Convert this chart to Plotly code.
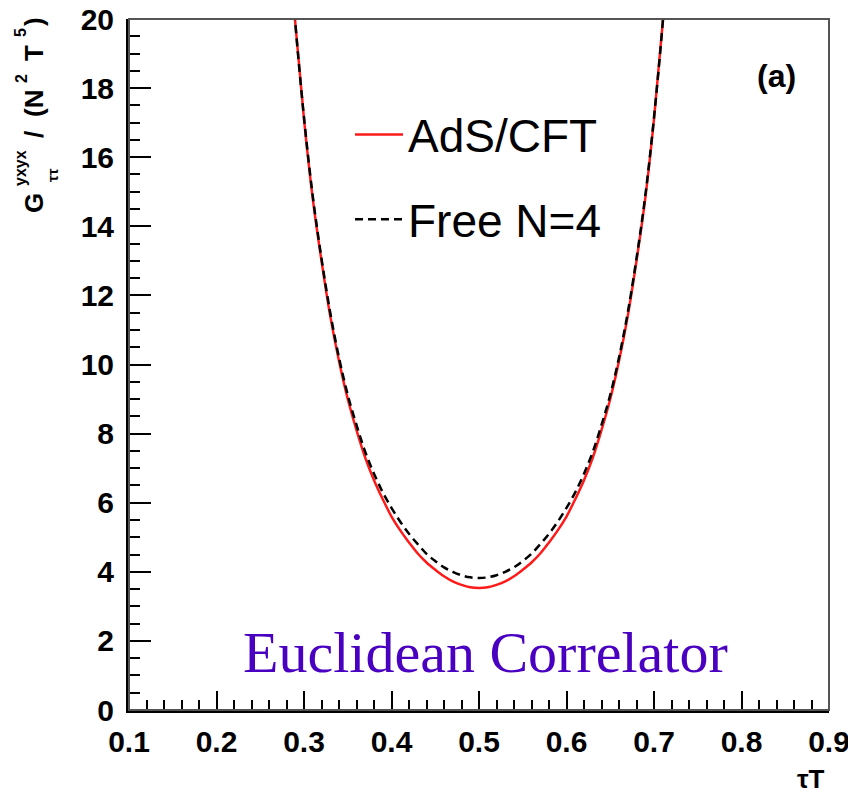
import plotly.graph_objects as go

# ---- data ----
tau_T = [0.28, 0.29, 0.30, 0.31, 0.32, 0.33, 0.34, 0.35, 0.36, 0.37, 0.38, 0.39,
         0.40, 0.41, 0.42, 0.43, 0.44, 0.45, 0.46, 0.47, 0.48, 0.49, 0.50,
         0.51, 0.52, 0.53, 0.54, 0.55, 0.56, 0.57, 0.58, 0.59, 0.60, 0.61,
         0.62, 0.63, 0.64, 0.65, 0.66, 0.67, 0.68, 0.69, 0.70, 0.71, 0.72]
ads_cft = [23.2, 19.9, 17.1, 14.8, 13.0, 11.4, 10.1, 9.0, 8.1, 7.3, 6.65, 6.1,
           5.6, 5.2, 4.85, 4.53, 4.27, 4.06, 3.87, 3.72, 3.62, 3.55, 3.53,
           3.55, 3.62, 3.72, 3.87, 4.06, 4.27, 4.53, 4.85, 5.2, 5.6, 6.1,
           6.65, 7.3, 8.1, 9.0, 10.1, 11.4, 13.0, 14.8, 17.1, 19.9, 23.2]
free_n4 = [23.2, 19.9, 17.15, 14.88, 13.07, 11.5, 10.2, 9.12, 8.25, 7.47, 6.84, 6.3,
           5.85, 5.45, 5.1, 4.8, 4.52, 4.31, 4.13, 4.0, 3.9, 3.84, 3.82,
           3.84, 3.9, 4.0, 4.13, 4.31, 4.52, 4.8, 5.1, 5.45, 5.85, 6.3,
           6.84, 7.47, 8.25, 9.12, 10.2, 11.5, 13.07, 14.88, 17.15, 19.9, 23.2]
x_ticks = [0.1, 0.2, 0.3, 0.4, 0.5, 0.6, 0.7, 0.8, 0.9]
y_ticks = [0, 2, 4, 6, 8, 10, 12, 14, 16, 18, 20]

W, H = 848, 793
L, R, T, B = 129, 829, 19, 710


def px(xp):
    return (xp - L) / (R - L)


def py(yp):
    return (B - yp) / (B - T)


fig = go.Figure()
fig.add_trace(go.Scatter(x=tau_T, y=ads_cft, mode="lines", name="AdS/CFT",
                         legendgroup="a", line=dict(color="#ff1a1a", width=2.5, shape="spline")))
fig.add_trace(go.Scatter(x=tau_T, y=free_n4, mode="lines", name="Free N=4",
                         legendgroup="b", line=dict(color="black", width=2.5, dash="8px,5px", shape="spline")))

tickfont = dict(family="Liberation Sans", size=30, color="black", weight="bold")

fig.update_xaxes(range=[0.1, 0.9000001], tickvals=x_ticks, ticktext=[f"{v:.1f}" for v in x_ticks],
                 ticks="inside", ticklen=19, tickwidth=2, tickcolor="black",
                 minor=dict(ticks="inside", ticklen=10, tickwidth=2, tickcolor="black", dtick=0.02),
                 showline=True, linecolor="black", linewidth=3, showgrid=False, zeroline=False,
                 tickfont=tickfont, ticklabelstandoff=3, automargin=False,
                 ticklabeloverflow="allow")
fig.update_yaxes(range=[0, 20], tickvals=y_ticks, ticktext=[str(v) for v in y_ticks],
                 ticks="inside", ticklen=22, tickwidth=2, tickcolor="black",
                 minor=dict(ticks="inside", ticklen=11, tickwidth=2, tickcolor="black", dtick=0.5),
                 showline=True, linecolor="black", linewidth=3, showgrid=False, zeroline=False,
                 tickfont=tickfont, ticklabelstandoff=6, automargin=False,
                 ticklabeloverflow="allow")

# frame (top/right)
fig.add_shape(type="rect", xref="paper", yref="paper", x0=0, y0=0, x1=1, y1=1,
              line=dict(color="#555555", width=2), layer="above")

ann = []


def add_text(text, xp, yp, size, angle=0, family="Liberation Sans", bold=True, color="black",
             xanchor="center", yanchor="middle"):
    ann.append(dict(text=text, x=px(xp), y=py(yp), xref="paper", yref="paper",
                    showarrow=False, textangle=angle, xanchor=xanchor, yanchor=yanchor,
                    font=dict(family=family, size=size, color=color,
                              weight="bold" if bold else "normal")))


# y axis title pieces (rotated)
add_text("G", 34, 203, 26, -90)
add_text("yxyx", 21, 168, 16, -90)
add_text("ττ", 52, 175, 15, -90)
add_text("/", 34, 135, 26, -90)
add_text("(N", 34, 104, 26, -90)
add_text("2", 21, 79, 16, -90)
add_text("T", 34, 53, 26, -90)
add_text("5", 21, 33, 16, -90)
add_text(")", 34, 22, 26, -90)
# x axis title
add_text("τT", 827, 779, 26, xanchor="right")
# panel label
add_text("(a)", 776, 76, 32)
# big caption
add_text("Euclidean Correlator", 485, 652, 58, family="Liberation Serif", bold=False, color="#4a00c0")

fig.update_layout(
    width=W, height=H,
    margin=dict(l=L, r=W - R, t=T, b=H - B),
    plot_bgcolor="white", paper_bgcolor="white",
    annotations=ann,
    legend=dict(x=px(350), y=py(98), xanchor="left", yanchor="top",
                font=dict(family="Liberation Sans", size=46, color="black"),
                bgcolor="rgba(0,0,0,0)", itemwidth=48, tracegroupgap=22),
)

fig.write_html("out.html")
